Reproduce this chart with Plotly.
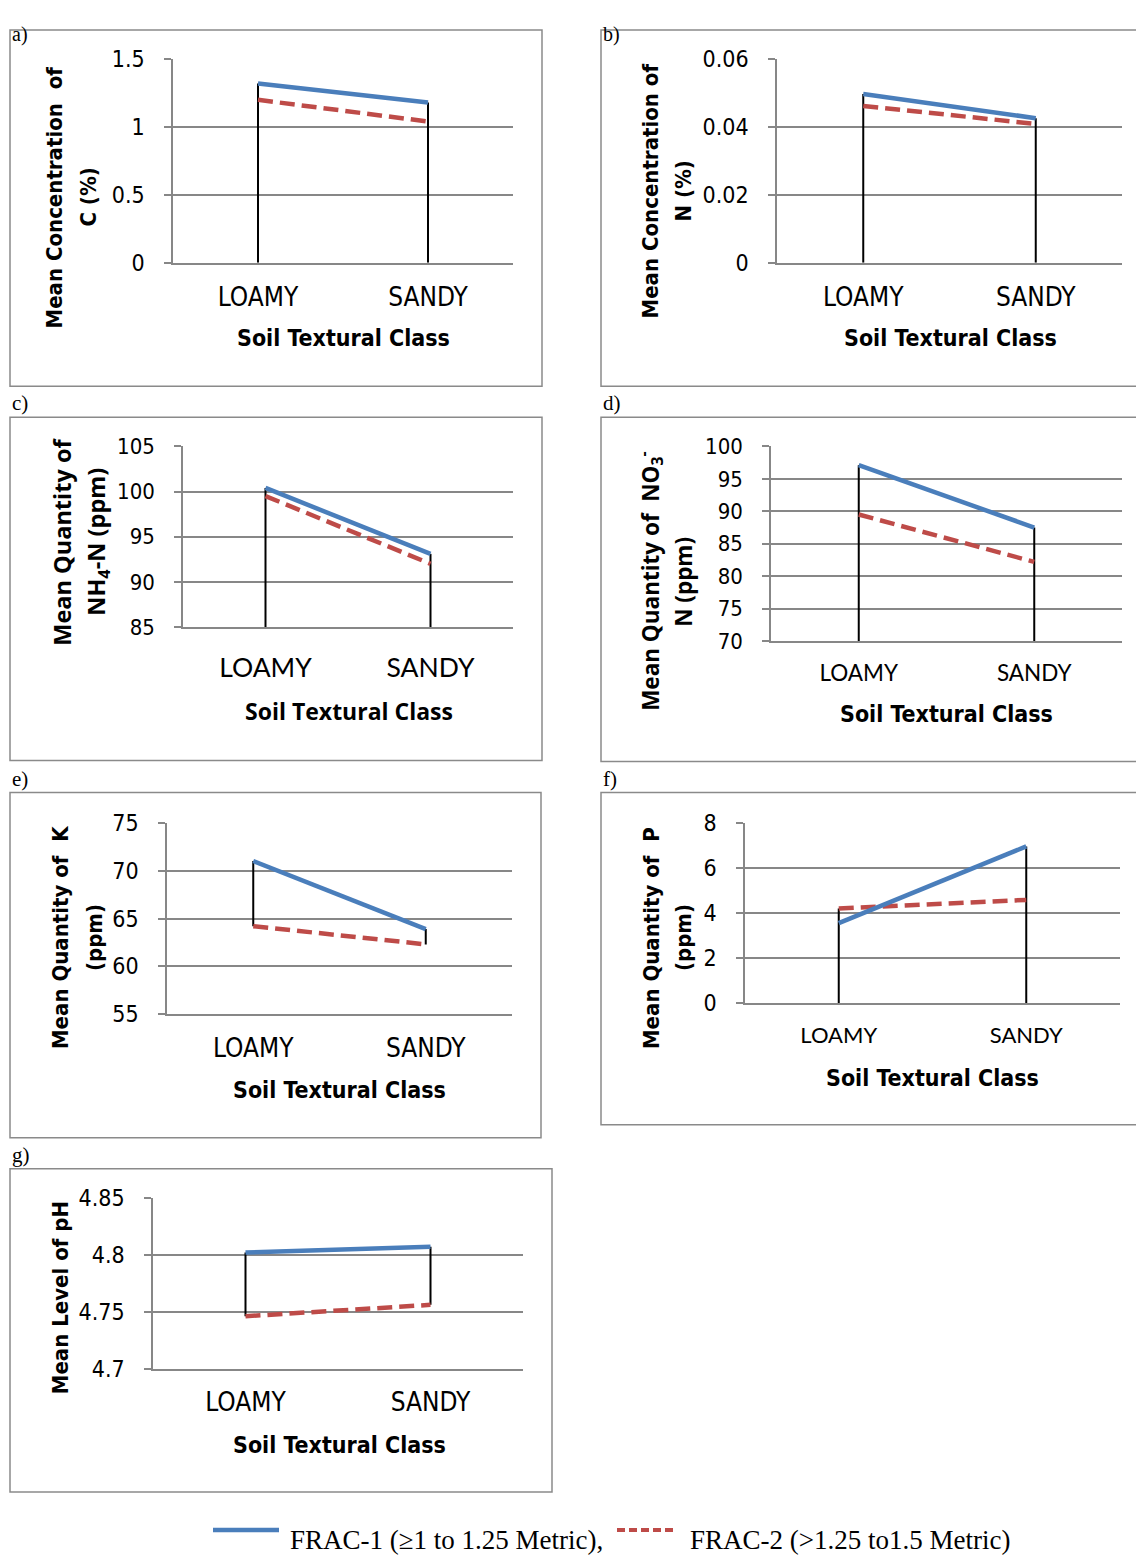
import plotly.graph_objects as go

# ---------------- data ----------------
categories = ["LOAMY", "SANDY"]

frac1_C = [1.32, 1.18]
frac2_C = [1.20, 1.04]
frac1_N = [0.0497, 0.0426]
frac2_N = [0.0462, 0.0409]
frac1_NH4 = [100.4, 93.1]
frac2_NH4 = [99.5, 92.0]
frac1_NO3 = [97.1, 87.5]
frac2_NO3 = [89.5, 82.2]
frac1_K = [71.0, 63.9]
frac2_K = [64.2, 62.3]
frac1_P = [3.55, 6.95]
frac2_P = [4.20, 4.58]
frac1_pH = [4.802, 4.807]
frac2_pH = [4.746, 4.756]

ticks_C = [0, 0.5, 1, 1.5]
ticklabels_C = ["0", "0.5", "1", "1.5"]
ticks_N = [0, 0.02, 0.04, 0.06]
ticklabels_N = ["0", "0.02", "0.04", "0.06"]
ticks_NH4 = [85, 90, 95, 100, 105]
ticklabels_NH4 = ["85", "90", "95", "100", "105"]
ticks_NO3 = [70, 75, 80, 85, 90, 95, 100]
ticklabels_NO3 = ["70", "75", "80", "85", "90", "95", "100"]
ticks_K = [55, 60, 65, 70, 75]
ticklabels_K = ["55", "60", "65", "70", "75"]
ticks_P = [0, 2, 4, 6, 8]
ticklabels_P = ["0", "2", "4", "6", "8"]
ticks_pH = [4.7, 4.75, 4.8, 4.85]
ticklabels_pH = ["4.7", "4.75", "4.8", "4.85"]

panel_letters = ["a)", "b)", "c)", "d)", "e)", "f)", "g)"]
y_titles = [
    ["Mean Concentration  of", "C (%)"],
    ["Mean Concentration of", "N (%)"],
    ["Mean Quantity of", "NH<sub>4</sub>-N (ppm)"],
    ["Mean Quantity of  NO<sub>3</sub><sup>-</sup>", "N (ppm)"],
    ["Mean Quantity of  K", "(ppm)"],
    ["Mean Quantity of  P", "(ppm)"],
    ["Mean Level of pH"],
]
x_title = "Soil Textural Class"
legend_names = ["FRAC-1 (\u22651 to 1.25 Metric),", "FRAC-2 (>1.25 to1.5 Metric)"]

# ---------------- styling / layout ----------------
W, H = 1144, 1562
OX, OY, SY = 8.0, 22.5, 0.98   # page offset / capture scale compensation
def px(x): return (x - OX) / W
def py(y): return 1 - (y / SY - OY) / H

NARROW = "DejaVu Sans Condensed, Liberation Sans Narrow, sans-serif"
CAL = "Lato, Carlito, Calibri, sans-serif"
CALB = "Open Sans, Noto Sans, sans-serif"
SERIF = "Liberation Serif, Times New Roman, serif"
BLUE = "#4A7EBB"
RED = "#BE4B48"
GRID = "#878787"

panels = [
    dict(f1=frac1_C, f2=frac2_C, tv=ticks_C, tt=ticklabels_C, drop="axis",
         plot=(173, 513, 60, 263), border=(10, 31, 542, 386), letter=(10, 19),
         ytx=[55, 89], yty=198, xtc=(343, 338), tickfont=(NARROW, 23), catfont=(NARROW, 26),
         xtf=(NARROW, 23), ytf=(NARROW, 22), catoff=10),
    dict(f1=frac1_N, f2=frac2_N, tv=ticks_N, tt=ticklabels_N, drop="axis",
         plot=(777, 1122, 60, 263), border=(601, 31, 1160, 386), letter=(601, 19),
         ytx=[651, 684], yty=192, xtc=(950, 338), tickfont=(NARROW, 23), catfont=(NARROW, 26),
         xtf=(NARROW, 23), ytf=(NARROW, 22), catoff=10),
    dict(f1=frac1_NH4, f2=frac2_NH4, tv=ticks_NH4, tt=ticklabels_NH4, drop="axis",
         plot=(183, 513, 446, 626), border=(10, 417, 542, 759), letter=(10, 403),
         ytx=[62, 98], yty=541, xtc=(349, 710), tickfont=(NARROW, 22), catfont=(CAL, 26.5),
         xtf=(CALB, 23), ytf=(CALB, 23.5), catoff=16),
    dict(f1=frac1_NO3, f2=frac2_NO3, tv=ticks_NO3, tt=ticklabels_NO3, drop="axis",
         plot=(771, 1122, 446, 640), border=(601, 417, 1160, 760), letter=(601, 403),
         ytx=[650, 684], yty=581, xtc=(946, 713), tickfont=(NARROW, 22), catfont=(CAL, 22.5),
         xtf=(NARROW, 23), ytf=(CALB, 22.5), catoff=11),
    dict(f1=frac1_K, f2=frac2_K, tv=ticks_K, tt=ticklabels_K, drop="between",
         plot=(167, 512, 821, 1012), border=(10, 791, 541, 1135), letter=(10, 777),
         ytx=[60, 94], yty=936, xtc=(339, 1087), tickfont=(NARROW, 23), catfont=(NARROW, 26),
         xtf=(NARROW, 23), ytf=(NARROW, 22), catoff=10),
    dict(f1=frac1_P, f2=frac2_P, tv=ticks_P, tt=ticklabels_P, drop="axis",
         plot=(745, 1120, 821, 1001), border=(601, 791, 1160, 1122), letter=(601, 777),
         ytx=[651, 683], yty=936, xtc=(932, 1075), tickfont=(NARROW, 23), catfont=(CAL, 22),
         xtf=(NARROW, 23), ytf=(NARROW, 22), catoff=12),
    dict(f1=frac1_pH, f2=frac2_pH, tv=ticks_pH, tt=ticklabels_pH, drop="between",
         plot=(153, 523, 1195, 1365), border=(10, 1166, 552, 1488), letter=(10, 1152),
         ytx=[60], yty=1295, xtc=(339, 1441), tickfont=(NARROW, 23), catfont=(NARROW, 26),
         xtf=(NARROW, 23), ytf=(NARROW, 22), catoff=10),
]

fig = go.Figure()
shapes = []
annotations = []
layout_axes = {}

for i, p in enumerate(panels):
    n = i + 1
    xa = "x" if n == 1 else f"x{n}"
    ya = "y" if n == 1 else f"y{n}"
    ymin, ymax = p["tv"][0], p["tv"][-1]

    # high-low / drop lines
    for k, cat in enumerate(categories):
        top = max(p["f1"][k], p["f2"][k])
        bot = ymin if p["drop"] == "axis" else min(p["f1"][k], p["f2"][k])
        fig.add_trace(go.Scatter(x=[cat, cat], y=[bot, top], mode="lines",
                                 line=dict(color="black", width=2),
                                 xaxis=xa, yaxis=ya, showlegend=False, hoverinfo="skip"))
    fig.add_trace(go.Scatter(x=categories, y=p["f2"], mode="lines", name=legend_names[1],
                             line=dict(color=RED, width=4.5, dash="15px,7px"),
                             xaxis=xa, yaxis=ya, showlegend=False))
    fig.add_trace(go.Scatter(x=categories, y=p["f1"], mode="lines", name=legend_names[0],
                             line=dict(color=BLUE, width=4.5),
                             xaxis=xa, yaxis=ya, showlegend=False))

    x0, x1, y0, y1 = p["plot"]
    layout_axes["xaxis" if n == 1 else f"xaxis{n}"] = dict(
        domain=[px(x0), px(x1)], anchor=ya, type="category",
        categoryorder="array", categoryarray=categories, range=[-0.5, 1.5],
        showline=True, linecolor=GRID, linewidth=1.5, showgrid=False, zeroline=False,
        ticks="", tickfont=dict(family=p["catfont"][0], size=p["catfont"][1], color="black"),
        ticklabelstandoff=p["catoff"], fixedrange=True)
    layout_axes["yaxis" if n == 1 else f"yaxis{n}"] = dict(
        domain=[py(y1), py(y0)], anchor=xa, range=[ymin, ymax],
        tickmode="array", tickvals=p["tv"], ticktext=p["tt"],
        showgrid=True, gridcolor=GRID, gridwidth=1.5, zeroline=False,
        showline=True, linecolor=GRID, linewidth=1.5,
        ticks="outside", ticklen=7, tickcolor=GRID, tickwidth=1.5,
        tickfont=dict(family=p["tickfont"][0], size=p["tickfont"][1], color="black"),
        ticklabelstandoff=15, fixedrange=True)

    bx0, by0, bx1, by1 = p["border"]
    shapes.append(dict(type="rect", xref="paper", yref="paper",
                       x0=px(bx0), x1=px(bx1), y0=py(by1), y1=py(by0),
                       line=dict(color="#8A8A8A", width=1.5), fillcolor="rgba(0,0,0,0)",
                       layer="below"))
    lx, ly = p["letter"]
    ly_paper = py(ly)
    if ly_paper > 0.99:
        annotations.append(dict(text=panel_letters[i], xref="paper", yref="paper",
                                x=px(lx), y=1.0, xanchor="left", yanchor="top",
                                showarrow=False, font=dict(family=SERIF, size=20, color="black")))
    else:
        annotations.append(dict(text=panel_letters[i], xref="paper", yref="paper",
                                x=px(lx), y=ly_paper, xanchor="left", yanchor="middle",
                                showarrow=False, font=dict(family=SERIF, size=21, color="black")))
    for line_text, lxc in zip(y_titles[i], p["ytx"]):
        annotations.append(dict(text="<b>" + line_text + "</b>", xref="paper", yref="paper",
                                x=px(lxc), y=py(p["yty"]), xanchor="center", yanchor="middle",
                                textangle=-90, showarrow=False,
                                font=dict(family=p["ytf"][0], size=p["ytf"][1], color="black")))
    cx, cy = p["xtc"]
    annotations.append(dict(text="<b>" + x_title + "</b>", xref="paper", yref="paper",
                            x=px(cx), y=py(cy), xanchor="center", yanchor="middle",
                            showarrow=False,
                            font=dict(family=p["xtf"][0], size=p["xtf"][1], color="black")))

# legend (drawn manually), kept inside the drawable page area
shapes.append(dict(type="line", xref="paper", yref="paper", x0=px(213), x1=px(279),
                   y0=py(1526), y1=py(1526), line=dict(color=BLUE, width=4.5)))
shapes.append(dict(type="line", xref="paper", yref="paper", x0=px(617), x1=px(677),
                   y0=py(1526), y1=py(1526), line=dict(color=RED, width=4, dash="8px,4px")))
annotations.append(dict(text=legend_names[0], xref="paper", yref="paper", x=px(288), y=0.0,
                        xanchor="left", yanchor="bottom", showarrow=False,
                        font=dict(family=SERIF, size=27, color="black")))
annotations.append(dict(text=legend_names[1], xref="paper", yref="paper", x=px(688), y=0.0,
                        xanchor="left", yanchor="bottom", showarrow=False,
                        font=dict(family=SERIF, size=27, color="black")))

fig.update_layout(width=W, height=H, margin=dict(l=0, r=0, t=0, b=0),
                  paper_bgcolor="white", plot_bgcolor="white", showlegend=False,
                  shapes=shapes, annotations=annotations, **layout_axes)
fig.write_html("out.html")
